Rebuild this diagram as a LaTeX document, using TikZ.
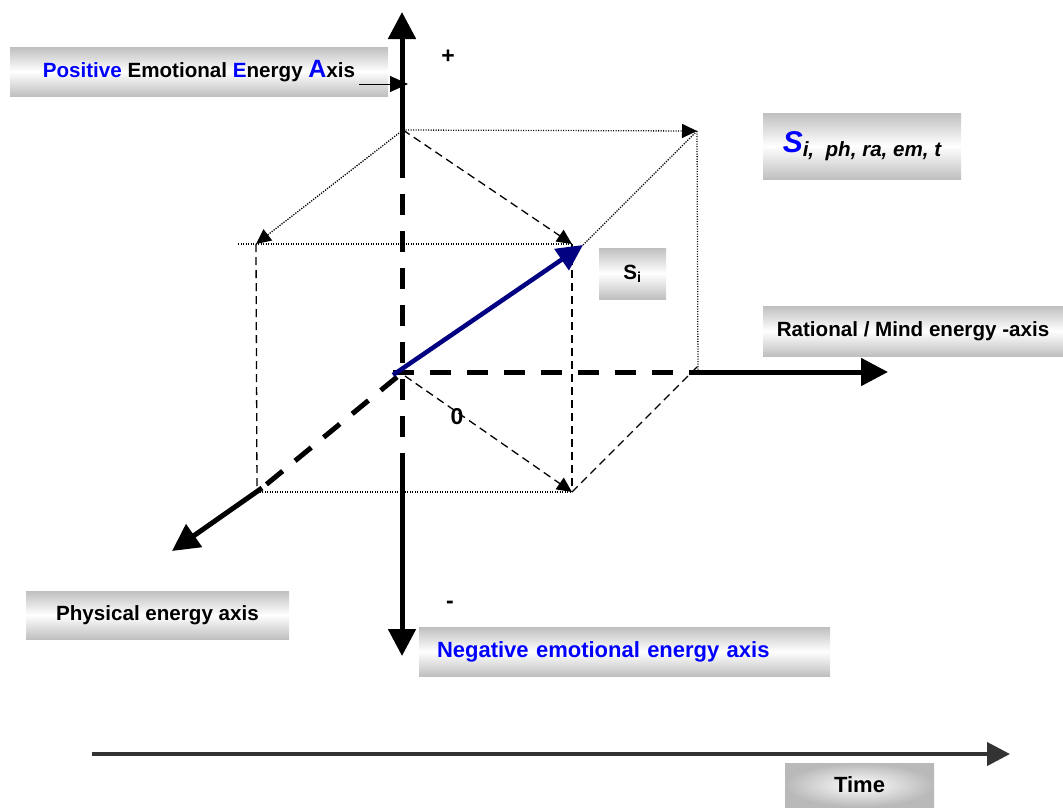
\documentclass[tikz,border=0pt]{standalone}
\usepackage{fontspec}
\setmainfont{Liberation Sans}
\usetikzlibrary{arrows.meta}
\definecolor{vecblue}{RGB}{0,0,128}

\begin{document}
\begin{tikzpicture}[
        x=1pt, y=-1pt, >={Triangle[length=15pt,width=14pt]},
        axis/.style={line width=5pt},
        axisdash/.style={line width=5pt, dash pattern=on 21pt off 16pt},
        bigtip/.style={-{Triangle[length=27pt,width=27pt]}},
        thindash/.style={line width=1.3pt, dash pattern=on 8pt off 5pt},
        dots/.style={line width=1.3pt, dash pattern=on 1.2pt off 1.3pt},
        box/.style={inner sep=0pt, top color=gray!50, bottom color=gray!50,
                    middle color=white, font=\fontsize{20.6}{24}\selectfont\bfseries},
        sign/.style={font=\fontsize{23}{26}\selectfont\bfseries},
    ]
    \useasboundingbox (0,0) rectangle (1063,807);

    \node[box, minimum width=378pt, minimum height=49pt] (pos) at (199,71.5)
        {\textcolor{blue}{Positive} Emotional \textcolor{blue}{E}nergy
         \textcolor{blue}{\fontsize{25}{25}\selectfont A}xis};
    \node[box, minimum width=198pt, minimum height=66pt] (state) at (862,146)
        {\textcolor{blue}{\fontsize{30}{30}\selectfont\itshape S}\raisebox{-4pt}{\itshape i,\ \ ph, ra, em, t}};
    \node[box, minimum width=67pt, minimum height=51pt] (si) at (632.5,273.5) {S\textsubscript{i}};
    \node[box, minimum width=300pt, minimum height=50pt] (mind) at (913,331)
        {Rational / Mind energy -axis};
    \node[box, minimum width=263pt, minimum height=48pt] (phys) at (157.5,615)
        {Physical energy axis};
    \node[box, minimum width=411pt, minimum height=49pt, text width=375pt,
          inner xsep=18pt, align=left, text=blue,
          font=\fontsize{22}{26}\selectfont\bfseries] (neg) at (624.5,651.5)
        {Negative emotional energy axis};
    \node[inner sep=0pt, minimum width=149pt, minimum height=44pt, shading=radial,
          inner color=white, outer color=gray!55,
          font=\fontsize{22}{26}\selectfont\bfseries] (time) at (859.5,785) {Time};

    \node[sign] (plus) at (448,57) {+};
    \node[sign] (minus) at (450,605) {-};
    \node[sign] (zero) at (457,417) {0};

    \coordinate (O) at (402,372);
    \coordinate (T) at (403,130);
    \coordinate (TR) at (697,131);
    \coordinate (FL) at (256,244);
    \coordinate (DL) at (238,244);
    \coordinate (FM) at (572,244);
    \coordinate (S) at (583,245);
    \coordinate (BL) at (257,492);
    \coordinate (BM) at (572,492);
    \coordinate (RR) at (698,372);

    \draw[dots,->] (T) -- (TR);
    \draw[dots] (TR) -- (RR);
    \draw[dots,->] (T) -- (FL);
    \draw[dots] (DL) -- (FM);
    \draw[dots] (TR) -- (S);
    \draw[dots] (BL) -- (BM);
    \draw[thindash,->] (T) -- (FM);
    \draw[thindash] (FM) -- (BM);
    \draw[thindash] (FL) -- (BL);
    \draw[thindash,->] ([shift={(3,4)}]O) -- (BM);
    \draw[thindash] (BM) -- ([yshift=6]RR);

    \coordinate (vtop) at (402,12);
    \coordinate (vsolid) at (402,157);
    \coordinate (vlow) at (402,471);
    \coordinate (vbot) at (402,656);
    \draw[axis,bigtip] (vsolid) -- (vtop);
    \draw[axisdash] (vsolid) -- (vlow);
    \draw[axis,bigtip] (vlow) -- (vbot);

    \coordinate (hstart) at (393,372);
    \coordinate (hsolid) at (693,372);
    \coordinate (hend) at (888,372);
    \draw[axisdash] (hstart) -- (hsolid);
    \draw[axis,bigtip] (hsolid) -- (hend);

    \coordinate (pstart) at (397,377);
    \coordinate (psolid) at (262,488);
    \coordinate (pend) at (172,551);
    \draw[axisdash] (pstart) -- (psolid);
    \draw[axis,bigtip] (psolid) -- (pend);

    \draw[vecblue, line width=4.5pt, -{Triangle[length=26pt,width=25pt]}]
        ([shift={(-9,3)}]O) -- (S);

    \coordinate (pa) at (359,84);
    \coordinate (pb) at (408,84);
    \draw[line width=1pt, -{Triangle[length=18pt,width=16pt]}] (pa) -- (pb);

    \coordinate (ta) at (92,754);
    \coordinate (tb) at (1010,754);
    \draw[black!80, line width=4pt, -{Triangle[length=23pt,width=23pt]}] (ta) -- (tb);
\end{tikzpicture}
\end{document}
